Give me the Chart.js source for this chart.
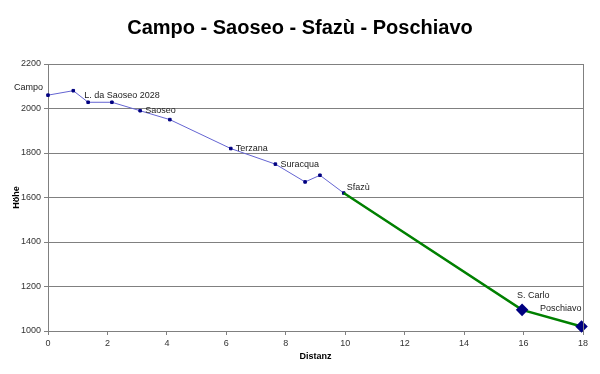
<!DOCTYPE html>
<html>
<head>
<meta charset="utf-8">
<script src="https://cdn.jsdelivr.net/npm/chart.js@4/dist/chart.umd.min.js"></script>
<style>
  html, body { margin: 0; padding: 0; background: #fff; }
  #wrap { width: 600px; height: 374px; }
</style>
</head>
<body>
<div id="wrap"><canvas id="profil"></canvas></div>
<script>
// Höhenprofil: Distanz (km) / Höhe (m)
const distanz = [0, 0.85, 1.35, 2.15, 3.1, 4.1, 6.15, 7.65, 8.65, 9.15, 9.95, 15.95, 17.95];
const hoehe   = [2060, 2080, 2028, 2028, 1990, 1950, 1820, 1750, 1670, 1700, 1620, 1095, 1020];
const orte    = ["Campo", "L. da Saoseo 2028", "", "", "Saoseo", "", "Terzana", "Suracqua", "", "", "Sfazù", "S. Carlo", "Poschiavo"];
const xTicks  = [0, 2, 4, 6, 8, 10, 12, 14, 16, 18];
const yTicks  = [1000, 1200, 1400, 1600, 1800, 2000, 2200];
const SPLIT = 10; // ab Sfazù grün

const FONT = "Arial, 'Liberation Sans', sans-serif";

const pts = distanz.map((d, i) => ({ x: d, y: hoehe[i] }));

// label placement tweaks (dx, dy, align) per point index
const LABEL_POS = {
  0: [-5, -8, "right"],
  1: [11, 5, "left"],
  10: [3, -6, "left"],
  11: [-5, -14, "left"],
  12: [0, -18, "right"],
};

const extras = {
  id: "extras",
  afterDraw(chart) {
    const { ctx, chartArea: a, scales: { x, y } } = chart;
    ctx.save();
    // plot frame, right side
    ctx.strokeStyle = "#808080";
    ctx.lineWidth = 1;
    ctx.beginPath();
    ctx.moveTo(Math.round(a.right) + 0.5, a.top);
    ctx.lineTo(Math.round(a.right) + 0.5, a.bottom);
    ctx.stroke();

    // title
    ctx.fillStyle = "#000";
    ctx.font = "bold 20px " + FONT;
    ctx.textAlign = "center";
    ctx.textBaseline = "middle";
    ctx.fillText("Campo - Saoseo - Sfazù - Poschiavo", 300, 28);

    // axis titles
    ctx.font = "bold 9px " + FONT;
    ctx.fillText("Distanz", (a.left + a.right) / 2, 357);
    ctx.save();
    ctx.translate(17, (a.top + a.bottom) / 2);
    ctx.rotate(-Math.PI / 2);
    ctx.fillText("Höhe", 0, 0);
    ctx.restore();

    // data labels
    ctx.font = "9px " + FONT;
    ctx.fillStyle = "#222";
    orte.forEach((name, i) => {
      if (!name) return;
      const px = x.getPixelForValue(distanz[i]);
      const py = y.getPixelForValue(hoehe[i]);
      const [dx, dy, al] = LABEL_POS[i] || [5, 0, "left"];
      ctx.textAlign = al;
      ctx.fillText(name, px + dx, py + dy);
    });
    ctx.restore();
  },
};

new Chart(document.getElementById("profil"), {
  type: "scatter",
  data: {
    datasets: [
      {
        data: pts.slice(0, SPLIT + 1),
        showLine: true,
        clip: false,
        borderColor: "#6464d2",
        borderWidth: 1,
        pointStyle: "rect",
        pointRadius: 1.8,
        pointBackgroundColor: "#000080",
        pointBorderColor: "#000080",
        pointBorderWidth: 1,
        order: 2,
      },
      {
        data: pts.slice(SPLIT),
        showLine: true,
        clip: false,
        borderColor: "#008000",
        borderWidth: 2.5,
        pointStyle: "rectRot",
        pointRadius: [0, 4.5, 4.5],
        pointBackgroundColor: "#000080",
        pointBorderColor: "#000080",
        order: 1,
      },
    ],
  },
  options: {
    responsive: true,
    maintainAspectRatio: false,
    animation: false,
    events: [],
    layout: { padding: { top: 64, right: 17, bottom: 0, left: 0 } },
    plugins: { legend: { display: false }, tooltip: { enabled: false }, title: { display: false } },
    scales: {
      x: {
        type: "linear",
        min: 0,
        max: 18,
        afterFit: (s) => { s.height = 43; },
        afterBuildTicks: (s) => { s.ticks = xTicks.map((v) => ({ value: v })); },
        ticks: { color: "#333", font: { family: FONT, size: 9 }, padding: 3, callback: (v) => String(v) },
        grid: { drawOnChartArea: false, tickLength: 4, color: "#808080" },
        border: { color: "#808080" },
      },
      y: {
        min: 1000,
        max: 2200,
        afterFit: (s) => { s.width = 48; },
        afterBuildTicks: (s) => { s.ticks = yTicks.map((v) => ({ value: v })); },
        ticks: { color: "#333", font: { family: FONT, size: 9 }, padding: 3, callback: (v) => String(v) },
        grid: { color: "#808080", tickLength: 4 },
        border: { color: "#808080" },
      },
    },
  },
  plugins: [extras],
});
</script>
</body>
</html>
